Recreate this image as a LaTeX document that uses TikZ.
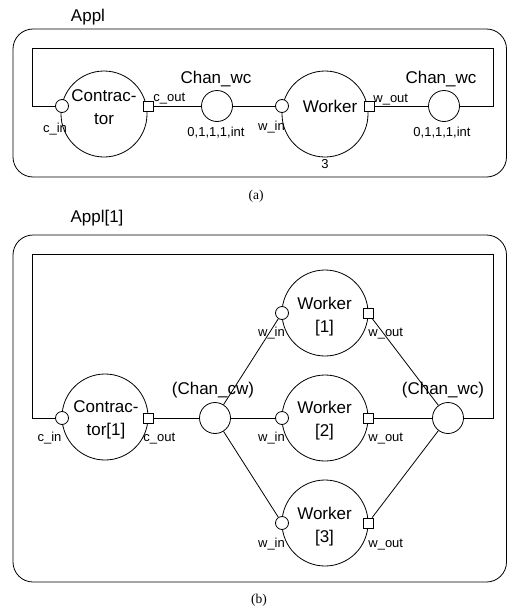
\documentclass[tikz,border=0pt]{standalone}
\usepackage{fontspec}
\setmainfont{Liberation Sans}
\newfontfamily\capfont{Liberation Serif}
\begin{document}
\begin{tikzpicture}[x=1pt,y=-1pt, line width=0.8pt,
  every node/.style={inner sep=0pt},
  big/.style={circle,draw,minimum size=86pt},
  chan/.style={circle,draw,minimum size=31pt},
  inport/.style={circle,draw,fill=white,minimum size=13pt},
  outport/.style={rectangle,draw,fill=white,minimum size=10pt},
  txt/.style={font=\fontsize{17}{23}\selectfont, align=center},
  small/.style={font=\fontsize{13}{15}\selectfont},
  captext/.style={font=\capfont\fontsize{13.5}{16}\selectfont},
  frame/.style={draw, rounded corners=20pt}]
\useasboundingbox (0,0) rectangle (508,613);

% ---------------- (a) ----------------
\node[txt,anchor=base] (applA) at (88,21) {Appl};
\draw[frame] (13,29) rectangle (506.5,177);

\node[big] (contrA) at (104,114) {};
\node[big] (workA) at (325,114) {};
\node[chan] (chA1) at (217,106) {};
\node[chan] (chA2) at (444,106) {};
\node[inport] (cinA) at (62,106) {};
\node[outport] (coutA) at (148,106) {};
\node[inport] (winA) at (282,106) {};
\node[outport] (woutA) at (369,106) {};

\coordinate (aTL) at (32,48);
\coordinate (aTR) at (493,48);
\draw (coutA) -- (chA1);
\draw (chA1) -- (winA);
\draw (woutA) -- (chA2);
\draw (cinA) -| (aTL) -- (aTR) |- (chA2);

\node[txt] (contrAtxt) at (104,107) {Contrac-\\tor};
\node[txt,anchor=base] (workAtxt) at (330,112) {Worker};
\node[small,anchor=base] (cinAl) at (55,132) {c\_in};
\node[small,anchor=base west] (coutAl) at (153,101) {c\_out};
\node[txt,anchor=base] (chA1l) at (216,83) {Chan\_wc};
\node[small,anchor=base] (chA1p) at (216,136) {0,1,1,1,int};
\node[small,anchor=base] (winAl) at (271.5,130) {w\_in};
\node[small,anchor=base] (workAn) at (325,168) {3};
\node[small,anchor=base west] (woutAl) at (373,102) {w\_out};
\node[txt,anchor=base] (chA2l) at (441,83) {Chan\_wc};
\node[small,anchor=base] (chA2p) at (442,136) {0,1,1,1,int};
\node[captext] (capA) at (256,196) {(a)};

% ---------------- (b) ----------------
\node[txt,anchor=base] (applB) at (97,222) {Appl[1]};
\draw[frame] (13,235) rectangle (506.5,582);

\node[big] (contrB) at (105,417) {};
\node[big] (w1) at (325,313) {};
\node[big] (w2) at (325,418) {};
\node[big] (w3) at (325,523) {};
\node[chan] (cwB) at (215,418) {};
\node[chan] (wcB) at (448,418) {};
\node[inport] (cinB) at (62,418) {};
\node[outport] (coutB) at (148,418) {};
\node[inport] (w1in) at (282,313) {};
\node[outport] (w1out) at (368,313) {};
\node[inport] (w2in) at (282,418) {};
\node[outport] (w2out) at (368,418) {};
\node[inport] (w3in) at (282,523) {};
\node[outport] (w3out) at (368,523) {};

\coordinate (bTL) at (32,254);
\coordinate (bTR) at (493,254);
\draw (coutB) -- (cwB);
\draw (cwB) -- (w1in);
\draw (cwB) -- (w2in);
\draw (cwB) -- (w3in);
\draw (w1out) -- (wcB);
\draw (w2out) -- (wcB);
\draw (w3out) -- (wcB);
\draw (cinB) -| (bTL) -- (bTR) |- (wcB);

\node[txt] (contrBtxt) at (106,419.5) {Contrac-\\tor[1]};
\node[txt] (w1txt) at (324.5,316.5) {Worker\\{[1]}};
\node[txt] (w2txt) at (324.5,421) {Worker\\{[2]}};
\node[txt] (w3txt) at (324.5,526.5) {Worker\\{[3]}};
\node[small,anchor=base] (cinBl) at (49.5,441) {c\_in};
\node[small,anchor=base west] (coutBl) at (143,441) {c\_out};
\node[txt,anchor=base] (cwBl) at (213,394) {(Chan\_cw)};
\node[txt,anchor=base] (wcBl) at (443,394) {(Chan\_wc)};
\node[small,anchor=base] (w1inl) at (271.5,336) {w\_in};
\node[small,anchor=base west] (w1outl) at (368,336) {w\_out};
\node[small,anchor=base] (w2inl) at (271.5,441) {w\_in};
\node[small,anchor=base west] (w2outl) at (368,441) {w\_out};
\node[small,anchor=base] (w3inl) at (271.5,547) {w\_in};
\node[small,anchor=base west] (w3outl) at (368,547) {w\_out};
\node[captext] (capB) at (259,600) {(b)};
\end{tikzpicture}
\end{document}
